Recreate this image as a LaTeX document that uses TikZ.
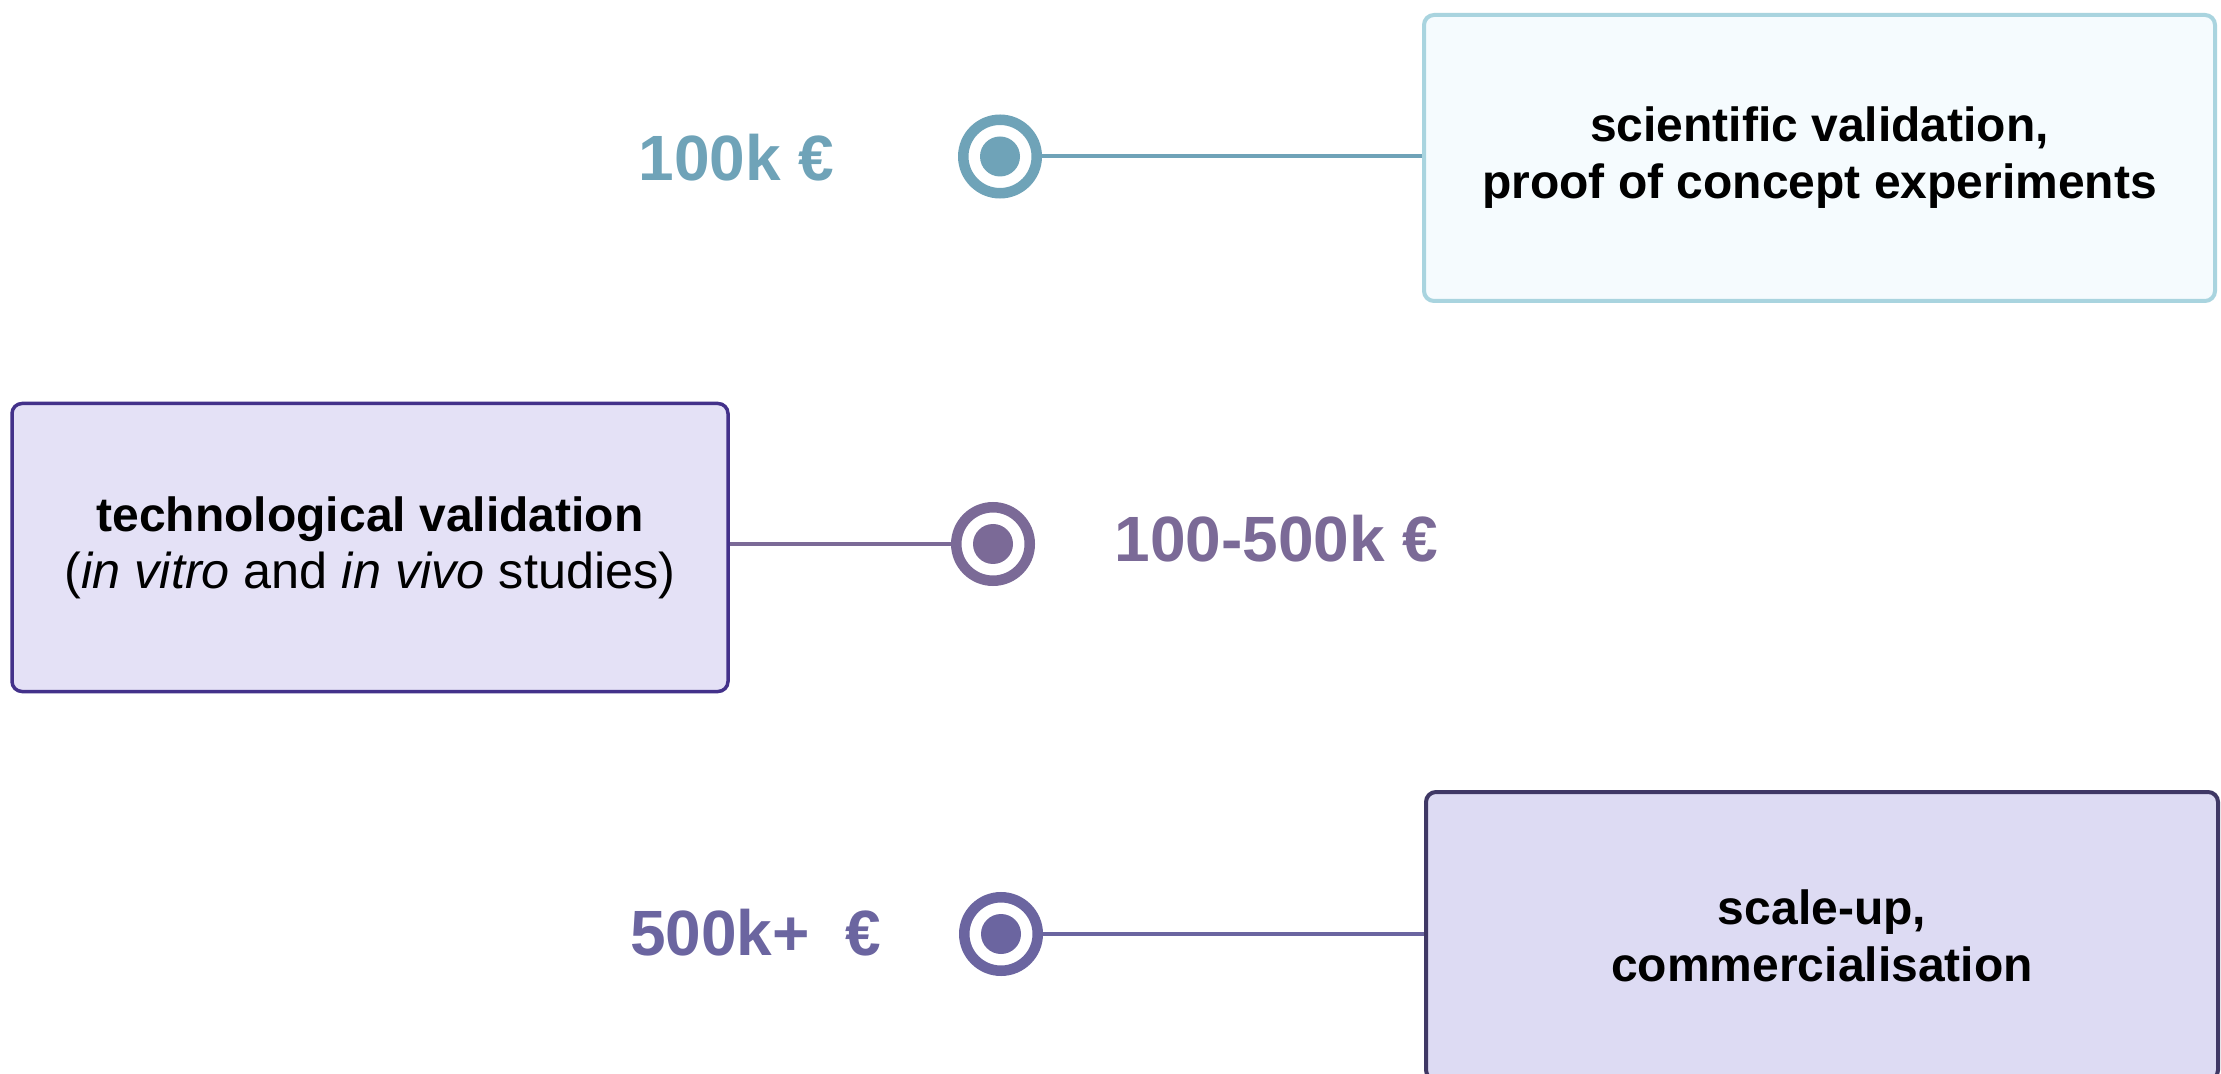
\documentclass[tikz,border=0pt]{standalone}
\usepackage{fontspec}
\setmainfont{Liberation Sans}
\definecolor{tealc}{HTML}{6FA3B8}
\definecolor{topborder}{HTML}{A9D4DF}
\definecolor{topfill}{HTML}{F5FBFE}
\definecolor{midc}{HTML}{7B6A97}
\definecolor{midborder}{HTML}{43318A}
\definecolor{midfill}{HTML}{E4E1F6}
\definecolor{botc}{HTML}{6B65A0}
\definecolor{botborder}{HTML}{3F3865}
\definecolor{botfill}{HTML}{DDDBF3}
\tikzset{
  stagebox/.style={draw, rectangle, rounded corners=5pt, line width=2pt, align=center,
    inner sep=0pt, font=\fontsize{24}{28.5}\selectfont, text=black},
  amount/.style={font=\fontsize{32}{38}\selectfont\bfseries, inner sep=0pt, anchor=base},
  ringmark/.style={circle, draw=#1, line width=5.25pt, fill=white, minimum size=36.75pt, inner sep=0pt},
  dotmark/.style={circle, fill=#1, minimum size=20pt, inner sep=0pt},
  link/.style={line width=2pt, draw=#1}
}
\begin{document}
\begin{tikzpicture}[x=0.5pt,y=-0.5pt]
\clip (0,0) rectangle (2221,1074);
\fill[white] (0,0) rectangle (2221,1074);

% boxes
\node[stagebox, draw=topborder, fill=topfill, minimum width=395.5pt, minimum height=143pt]
  (b1) at (1819.5,158) {\textbf{scientific validation,}\\\textbf{proof of concept experiments}};
\node[stagebox, draw=midborder, fill=midfill, line width=1.75pt, minimum width=358pt, minimum height=144pt]
  (b2) at (370,547.5) {\textbf{technological validation}\\{\fontsize{25.2}{28.5}\selectfont(\textit{in vitro} and \textit{in vivo} studies)}};
\node[stagebox, draw=botborder, fill=botfill, minimum width=396pt, minimum height=144pt]
  (b3) at (1822,936) {\textbf{scale-up,}\\\textbf{commercialisation}};

% markers
\node[ringmark=tealc] (c1) at (1000,156.5) {};
\node[dotmark=tealc] (d1) at (c1.center) {};
\node[ringmark=midc] (c2) at (993,544) {};
\node[dotmark=midc] (d2) at (c2.center) {};
\node[ringmark=botc] (c3) at (1001,934) {};
\node[dotmark=botc] (d3) at (c3.center) {};

% connectors
\draw[link=tealc] (c1.east) -- (c1.east -| b1.west);
\draw[link=midc] (c2.west) -- (c2.west -| b2.east);
\draw[link=botc] (c3.east) -- (c3.east -| b3.west);

% amounts
\node[amount, text=tealc] (a1) at (736.5,181) {100k €};
\node[amount, text=midc] (a2) at (1276.5,561.5) {100-500k €};
\node[amount, text=botc] (a3) at (755.5,955) {500k+\ \ €};
\end{tikzpicture}
\end{document}
